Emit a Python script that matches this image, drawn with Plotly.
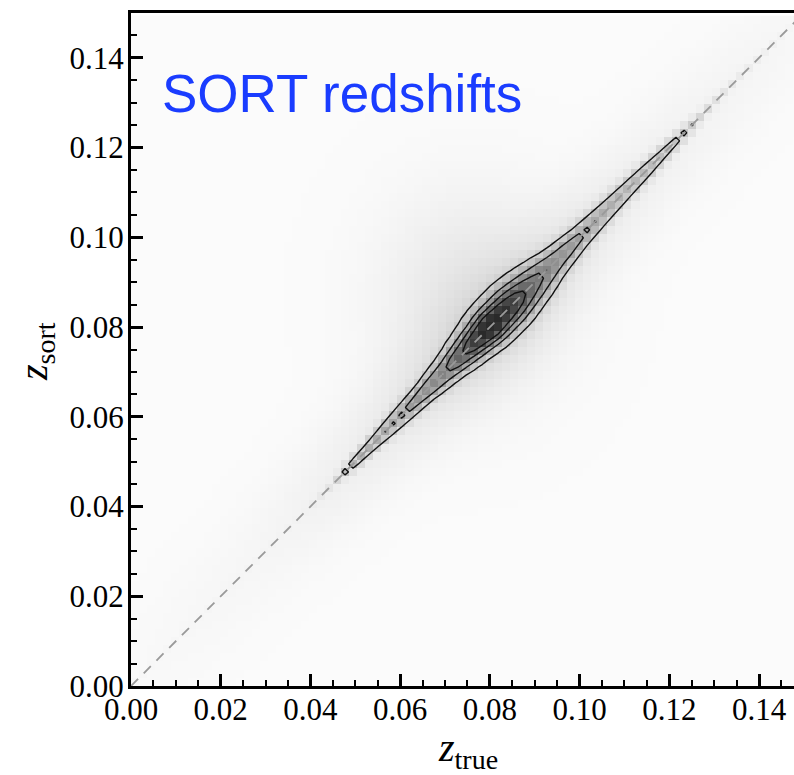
import numpy as np
import plotly.graph_objects as go

# ---- values ----
# ridge along the diagonal: position u=(z_true+z_sort)/2, peak density, perpendicular width
ridge_u     = [0.040, 0.045, 0.048, 0.050, 0.055, 0.060, 0.065, 0.070, 0.075, 0.080, 0.085, 0.090, 0.095, 0.100, 0.105, 0.110, 0.115, 0.120, 0.124, 0.128, 0.135, 0.145]
ridge_peak  = [0.02,  0.08,  0.30,  0.33,  0.36,  0.40,  0.44,  0.50,  0.72,  1.00,  0.82,  0.56,  0.44,  0.40,  0.36,  0.33,  0.31,  0.29,  0.26,  0.14,  0.06,  0.02]
ridge_width = [0.0008,0.0008,0.0010,0.0012,0.0015,0.0019,0.0022,0.0026,0.0031,0.0036,0.0040,0.0038,0.0030,0.0025,0.0022,0.0020,0.0018,0.0015,0.0012,0.0009,0.0008,0.0008]
# broad diagonal band (faint scatter)
band_u      = [0.000, 0.030, 0.050, 0.070, 0.080, 0.090, 0.110, 0.130, 0.150]
band_amp    = [0.01,  0.03,  0.07,  0.11,  0.13,  0.11,  0.07,  0.04,  0.02]
band_width  = 0.010
# diffuse cloud around the peak (slightly above the diagonal)
halo_center = (0.076, 0.087)
halo_sigma  = (0.014, 0.016)
halo_amp    = 0.12
background  = 0.025
contour_levels = (0.28, 0.88, 0.20)
bin_size = 0.0018

tick_vals = [0.00, 0.02, 0.04, 0.06, 0.08, 0.10, 0.12, 0.14]
tick_text = ["0.00", "0.02", "0.04", "0.06", "0.08", "0.10", "0.12", "0.14"]

# ---- density grid ----
edges = np.arange(0, 0.15 + 1e-9, bin_size)
cent = (edges[:-1] + edges[1:]) / 2
X, Y = np.meshgrid(cent, cent)
U = (X + Y) / 2
V = Y - X
A = np.interp(U, ridge_u, ridge_peak, left=0.01, right=0.01)
S = np.interp(U, ridge_u, ridge_width)
B = np.interp(U, band_u, band_amp)
Z = (A * np.exp(-V**2 / (2 * S**2))
     + B * np.exp(-V**2 / (2 * band_width**2))
     + halo_amp * np.exp(-((X - halo_center[0])**2 / (2 * halo_sigma[0]**2)
                           + (Y - halo_center[1])**2 / (2 * halo_sigma[1]**2)))
     + background)

fig = go.Figure()
fig.add_trace(go.Heatmap(
    x=cent, y=cent, z=Z, zmin=0, zmax=1.15,
    colorscale=[[0, "#ffffff"], [0.3, "#c4c4c4"], [1, "#2a2a2a"]],
    showscale=False, hoverinfo="skip"))
fig.add_trace(go.Contour(
    x=cent, y=cent, z=Z,
    contours=dict(coloring="lines", start=contour_levels[0], end=contour_levels[1], size=contour_levels[2]),
    colorscale=[[0, "#111111"], [1, "#111111"]],
    line=dict(width=1.4, smoothing=0), showscale=False, hoverinfo="skip"))
fig.add_trace(go.Scatter(
    x=[0, 0.15], y=[0, 0.15], mode="lines",
    line=dict(color="#9a9a9a", width=1.8, dash="10px,8px"),
    showlegend=False, hoverinfo="skip"))

serif = "Liberation Serif, Times New Roman, serif"
axis_common = dict(
    showline=True, linewidth=3, linecolor="black",
    ticks="inside", ticklen=12, tickwidth=2.5, tickcolor="black",
    tickvals=tick_vals, ticktext=tick_text,
    tickfont=dict(family=serif, size=31, color="black"),
    minor=dict(dtick=0.005, ticks="inside", ticklen=6, tickwidth=2, tickcolor="black", tick0=0),
    showgrid=False, zeroline=False,
)
fig.update_layout(
    width=794, height=775,
    margin=dict(l=131, r=0, t=13, b=89),
    paper_bgcolor="white", plot_bgcolor="white",
    showlegend=False,
    xaxis=dict(range=[0, 0.1478], mirror=True, ticklabelstandoff=-6, **axis_common),
    yaxis=dict(range=[0, 0.150], mirror=False, ticklabelstandoff=-2, **axis_common),
)
# annotations placed in pixel terms
pw, ph = 794 - 131 - 0, 775 - 13 - 89
def px(xpix): return (xpix - 131) / pw
def py(ypix): return (775 - 89 - ypix) / ph
fig.update_layout(annotations=[
    dict(text="SORT redshifts", x=px(160), y=py(93), xref="paper", yref="paper",
         showarrow=False, xanchor="left", yanchor="middle",
         font=dict(family="Liberation Sans, Arial, sans-serif", size=53, color="#1a3cff")),
    dict(text="<i>z</i><sub>true</sub>", x=px(468), y=py(750), xref="paper", yref="paper",
         showarrow=False, xanchor="center", yanchor="middle",
         font=dict(family=serif, size=40, color="black")),
    dict(text="<i>z</i><sub>sort</sub>", x=px(36), y=py(352), xref="paper", yref="paper",
         showarrow=False, textangle=-90, xanchor="center", yanchor="middle",
         font=dict(family=serif, size=40, color="black")),
])
fig.write_html("out.html")
